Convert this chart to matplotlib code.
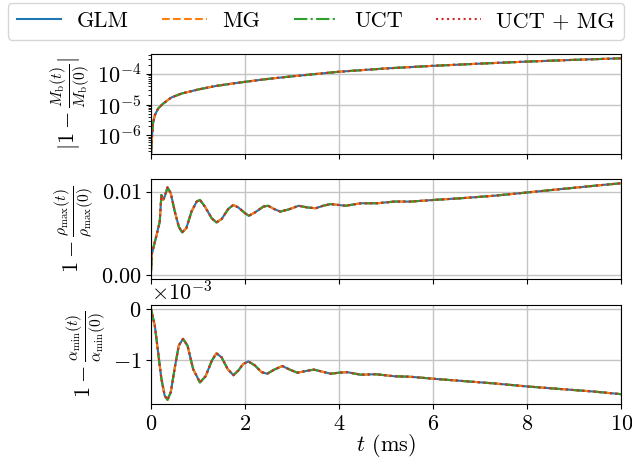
import numpy as np
import matplotlib
matplotlib.use('Agg')
import matplotlib.pyplot as plt

plt.rcParams['font.family'] = 'serif'
plt.rcParams['font.serif'] = ['cmr10']
plt.rcParams['mathtext.fontset'] = 'cm'
plt.rcParams['axes.formatter.use_mathtext'] = True
plt.rcParams['axes.unicode_minus'] = True
plt.rcParams['font.size'] = 16

# methods (all four curves lie on top of each other)
methods = ['GLM', 'MG', 'UCT', 'UCT + MG']
styles = ['-', '--', '-.', ':']
colors = ['C0', 'C1', 'C2', 'C3']

# |1 - Mb(t)/Mb(0)|
t_mass = [0.0, 0.02, 0.04, 0.08, 0.15, 0.255, 0.43, 0.65, 1.0, 1.36, 1.71,
          2.0, 2.46, 3.0, 4.0, 5.0, 6.0, 7.0, 8.0, 9.0, 10.0]
mass_err = [2.5e-7, 8.7e-7, 2.4e-6, 4.5e-6, 7.4e-6, 1.07e-5, 1.70e-5, 2.29e-5,
            3.09e-5, 3.98e-5, 4.79e-5, 5.50e-5, 6.76e-5, 8.3e-5, 1.17e-4,
            1.50e-4, 1.82e-4, 2.15e-4, 2.50e-4, 2.85e-4, 3.20e-4]

# 1 - rho_max(t)/rho_max(0)
t_rho = [0.0, 0.02, 0.11, 0.185, 0.22, 0.256, 0.29, 0.35, 0.42, 0.505, 0.59,
         0.66, 0.75, 0.86, 0.97, 1.04, 1.145, 1.29, 1.39, 1.50, 1.64, 1.75,
         1.855, 2.0, 2.08, 2.21, 2.39, 2.49, 2.62, 2.75, 2.95, 3.14, 3.32,
         3.50, 3.66, 3.82, 3.98, 4.14, 4.46, 4.81, 5.17, 5.52, 6.02, 6.59,
         7.30, 8.01, 8.72, 9.43, 10.0]
rho_err = [0.0005, 0.0026, 0.0046, 0.0064, 0.0096, 0.0090, 0.0094, 0.0105,
           0.0098, 0.0076, 0.0058, 0.0051, 0.0056, 0.0076, 0.0088, 0.0090,
           0.0082, 0.0068, 0.0063, 0.0067, 0.0079, 0.0084, 0.0081, 0.0074,
           0.0071, 0.0075, 0.0082, 0.0083, 0.0079, 0.0076, 0.0079, 0.0083,
           0.0081, 0.0080, 0.0083, 0.0085, 0.0084, 0.0083, 0.0086, 0.0086,
           0.0088, 0.0088, 0.0090, 0.0092, 0.0095, 0.0099, 0.0103, 0.0107,
           0.0110]

# 1 - alpha_min(t)/alpha_min(0), in units of 1e-3
t_alpha = [0.0, 0.08, 0.15, 0.22, 0.29, 0.35, 0.42, 0.505, 0.59, 0.68, 0.775,
           0.895, 1.04, 1.16, 1.29, 1.39, 1.50, 1.63, 1.75, 1.855, 1.96, 2.07,
           2.21, 2.35, 2.47, 2.62, 2.79, 2.95, 3.11, 3.28, 3.46, 3.64, 3.82,
           4.0, 4.17, 4.46, 4.78, 5.17, 5.52, 6.02, 6.59, 7.30, 8.01, 8.72,
           9.43, 10.0]
alpha_err = [0.0, -0.32, -0.84, -1.36, -1.69, -1.77, -1.62, -1.14, -0.71,
             -0.58, -0.71, -1.17, -1.43, -1.31, -1.01, -0.86, -0.94, -1.17,
             -1.29, -1.20, -1.07, -1.02, -1.10, -1.23, -1.26, -1.18, -1.11,
             -1.18, -1.24, -1.21, -1.18, -1.22, -1.26, -1.24, -1.23, -1.28,
             -1.27, -1.31, -1.32, -1.36, -1.40, -1.45, -1.51, -1.56, -1.61,
             -1.66]

fig, axes = plt.subplots(3, 1, sharex=True, figsize=(6.32, 4.58), dpi=100)
fig.subplots_adjust(left=0.239, right=0.983, top=0.882, bottom=0.117, hspace=0.255)

ax1, ax2, ax3 = axes
for m, ls, c in zip(methods, styles, colors):
    ax1.plot(t_mass, mass_err, ls=ls, color=c, lw=1.5, label=m)
    ax2.plot(t_rho, rho_err, ls=ls, color=c, lw=1.5)
    ax3.plot(t_alpha, np.array(alpha_err) * 1e-3, ls=ls, color=c, lw=1.5)

ax1.set_yscale('log')
ax1.set_ylim(2.5e-7, 4.4e-4)
ax1.set_yticks([1e-6, 1e-5, 1e-4])
ax1.set_ylabel(r'$|1-\frac{M_\mathrm{b}(t)}{M_\mathrm{b}(0)}|$')

ax2.set_ylim(-0.0005, 0.01147)
ax2.set_yticks([0.0, 0.01])
ax2.yaxis.set_major_formatter(matplotlib.ticker.FormatStrFormatter(r'$%.2f$'))
ax2.set_ylabel(r'$1-\frac{\rho_\mathrm{max}(t)}{\rho_\mathrm{max}(0)}$')

ax3.set_ylim(-1.86e-3, 0.09e-3)
ax3.set_yticks([-1e-3, 0.0])
ax3.ticklabel_format(axis='y', style='sci', scilimits=(0, 0))
ax3.set_ylabel(r'$1-\frac{\alpha_\mathrm{min}(t)}{\alpha_\mathrm{min}(0)}$')

ax3.set_xlim(0, 10)
ax3.set_xticks([0, 2, 4, 6, 8, 10])
ax3.set_xlabel(r'$t$ (ms)', labelpad=-1)

for ax in axes:
    ax.grid(True, color='#c4c4c4', lw=1.0)

fig.legend(loc='lower left', bbox_to_anchor=(0.0127, 0.913, 0.9743, 0.076),
           ncol=4, mode='expand', borderaxespad=0.0, fontsize=16,
           handlelength=2.0, handletextpad=0.7)

fig.savefig('out.png', dpi=100)
